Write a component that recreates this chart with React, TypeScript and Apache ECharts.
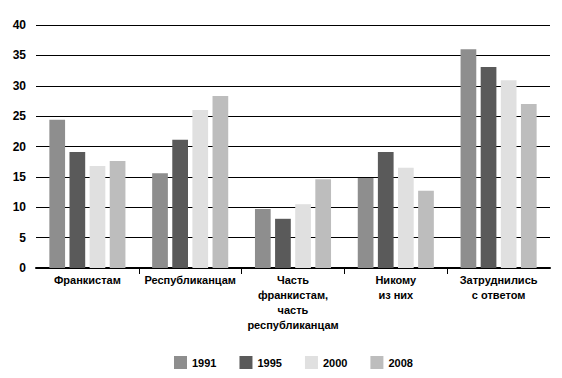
import React, { useEffect, useRef } from "react";
import * as echarts from "echarts";

const categories = [
  "Франкистам",
  "Республиканцам",
  "Часть\nфранкистам,\nчасть\nреспубликанцам",
  "Никому\nиз них",
  "Затруднились\nс ответом",
];
const years = ["1991", "1995", "2000", "2008"];
const values1991 = [24.4, 15.6, 9.7, 14.8, 36.0];
const values1995 = [19.1, 21.1, 8.1, 19.1, 33.1];
const values2000 = [16.8, 26.0, 10.5, 16.5, 30.9];
const values2008 = [17.6, 28.3, 14.6, 12.7, 27.0];
const yTicks = [0, 5, 10, 15, 20, 25, 30, 35, 40];
const colors = ["#8e8e8e", "#5a5a5a", "#e0e0e0", "#bdbdbd"];

const FONT = "'Liberation Sans Narrow', 'Liberation Sans', sans-serif";

export default function App() {
  const ref = useRef<HTMLDivElement>(null);
  useEffect(() => {
    if (!ref.current) return;
    const chart = echarts.init(ref.current, undefined, { renderer: "svg" });
    const allValues = [values1991, values1995, values2000, values2008];
    chart.setOption({
      animation: false,
      textStyle: { fontFamily: FONT },
      grid: { left: 36, right: 12, top: 25, bottom: 110, containLabel: false },
      legend: {
        top: 351,
        left: 169,
        itemWidth: 13,
        itemHeight: 13,
        itemGap: 23,
        itemTextGap: 6,
        icon: "rect",
        textStyle: { fontFamily: FONT, fontWeight: "bold", fontSize: 11, color: "#000" },
        data: years,
      },
      xAxis: [
        {
          type: "category",
          data: categories,
          axisLine: { show: true, lineStyle: { color: "#000", width: 2 } },
          axisTick: { show: false },
          axisLabel: {
            color: "#000",
            fontFamily: FONT,
            fontWeight: "bold",
            fontSize: 11,
            lineHeight: 15,
            margin: 4,
            interval: 0,
          },
        },
        {
          type: "value",
          position: "bottom",
          min: 0,
          max: 5,
          interval: 1,
          axisLine: { show: false },
          axisLabel: { show: false },
          splitLine: { show: false },
          axisTick: {
            show: true,
            length: 6,
            customValues: [1, 2, 3, 4],
            lineStyle: { color: "#000", width: 1 },
          },
        },
      ],
      yAxis: {
        type: "value",
        min: 0,
        max: 40,
        interval: 5,
        axisLine: { show: false },
        axisTick: { show: false },
        axisLabel: {
          color: "#000",
          fontFamily: FONT,
          fontWeight: "bold",
          fontSize: 12,
          margin: 10,
          customValues: yTicks,
        },
        splitLine: { show: true, lineStyle: { color: "#000", width: 1 } },
      },
      series: years.map((y, i) => ({
        name: y,
        type: "bar",
        xAxisIndex: 0,
        data: allValues[i],
        barGap: "28%",
        barCategoryGap: "26%",
        itemStyle: { color: colors[i] },
      })),
    });
    return () => chart.dispose();
  }, []);
  return (
    <div
      ref={ref}
      style={{ position: "fixed", left: 0, top: 0, width: 562, height: 378, background: "#fff" }}
    />
  );
}
